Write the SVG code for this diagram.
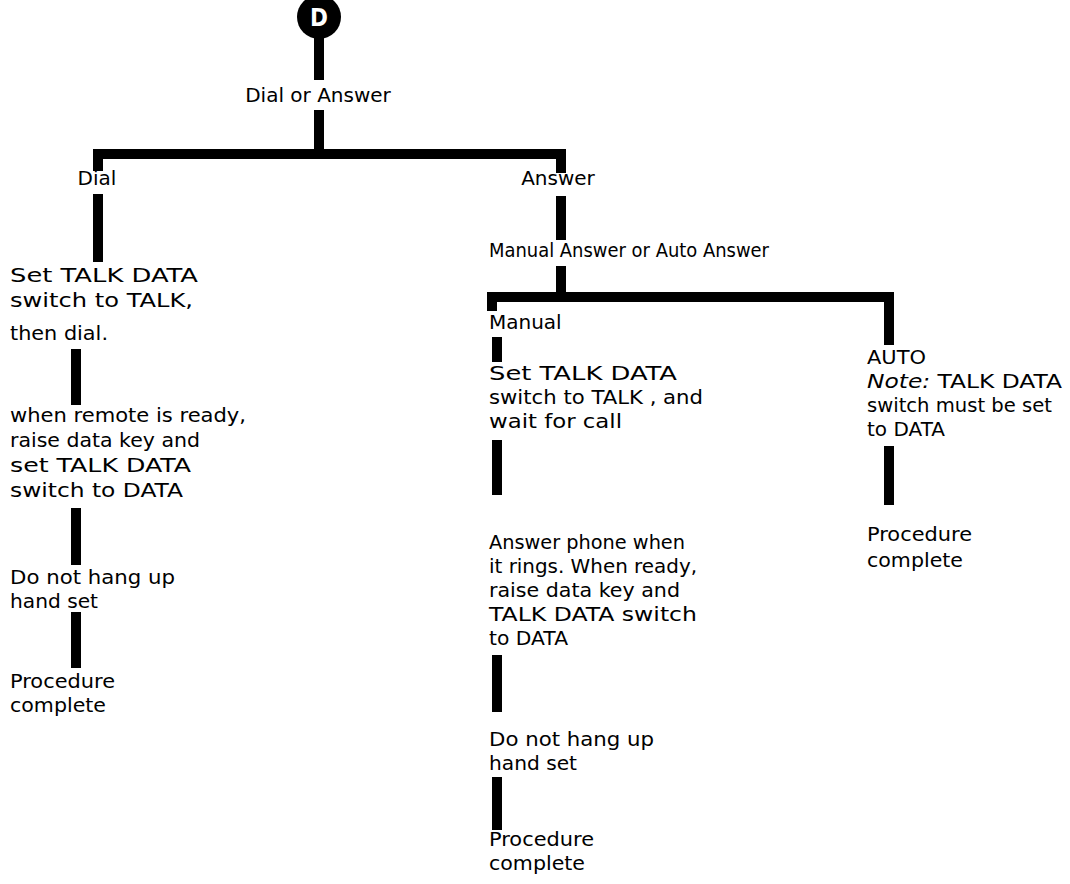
<svg xmlns="http://www.w3.org/2000/svg" width="1070" height="884" viewBox="0 0 1070 884">
<style>
.bg{fill:#fff}
.bar{fill:none;stroke:#000;stroke-width:10;stroke-linejoin:miter;stroke-linecap:butt}
.t{font-family:"DejaVu Sans","Liberation Sans",sans-serif;font-size:20px;fill:#000}
.it{font-style:italic}
.lbl{font-family:"DejaVu Sans Condensed","DejaVu Sans",sans-serif;font-weight:bold;font-size:24px;fill:#fff}
</style>
<rect class="bg" x="0" y="0" width="1070" height="884"/>
<g id="connectors">
  <path class="bar" d="M319 36 V80"/>
  <path class="bar" d="M319 110 V154"/>
  <path class="bar" d="M98 171 V154 H561 V173"/>
  <path class="bar" d="M98 194 V262"/>
  <path class="bar" d="M76 349 V405"/>
  <path class="bar" d="M76 508 V565"/>
  <path class="bar" d="M76 612 V668"/>
  <path class="bar" d="M561 196 V240"/>
  <path class="bar" d="M561 266 V297"/>
  <path class="bar" d="M492 311 V297 H889 V345"/>
  <path class="bar" d="M497 337 V362"/>
  <path class="bar" d="M497 440 V495"/>
  <path class="bar" d="M497 655 V712"/>
  <path class="bar" d="M497 777 V830"/>
  <path class="bar" d="M889 446 V505"/>
</g>
<g id="start">
  <circle cx="319" cy="17" r="22" fill="#000"/>
  <text class="lbl" x="319" y="26" text-anchor="middle">D</text>
</g>
<g id="dial-or-answer">
  <text class="t" x="318" y="102" text-anchor="middle">Dial or Answer</text>
</g>
<g id="dial">
  <text class="t" x="97" y="185" text-anchor="middle">Dial</text>
</g>
<g id="dial-set-talk">
  <text class="t" x="10" y="282" textLength="188" lengthAdjust="spacingAndGlyphs">Set TALK DATA</text>
  <text class="t" x="10" y="307" textLength="183" lengthAdjust="spacingAndGlyphs">switch to TALK,</text>
  <text class="t" x="10" y="340" textLength="98" lengthAdjust="spacingAndGlyphs">then dial.</text>
</g>
<g id="dial-remote-ready">
  <text class="t" x="10" y="422" textLength="236" lengthAdjust="spacingAndGlyphs">when remote is ready,</text>
  <text class="t" x="10" y="447" textLength="190" lengthAdjust="spacingAndGlyphs">raise data key and</text>
  <text class="t" x="10" y="472" textLength="181" lengthAdjust="spacingAndGlyphs">set TALK DATA</text>
  <text class="t" x="10" y="497" textLength="173" lengthAdjust="spacingAndGlyphs">switch to DATA</text>
</g>
<g id="dial-hang-up">
  <text class="t" x="10" y="584" textLength="165" lengthAdjust="spacingAndGlyphs">Do not hang up</text>
  <text class="t" x="10" y="608" textLength="88" lengthAdjust="spacingAndGlyphs">hand set</text>
</g>
<g id="dial-complete">
  <text class="t" x="10" y="688" textLength="105" lengthAdjust="spacingAndGlyphs">Procedure</text>
  <text class="t" x="10" y="712" textLength="96" lengthAdjust="spacingAndGlyphs">complete</text>
</g>
<g id="answer">
  <text class="t" x="558" y="185" text-anchor="middle">Answer</text>
</g>
<g id="manual-or-auto">
  <text class="t" x="489" y="257" textLength="280" lengthAdjust="spacingAndGlyphs">Manual Answer or Auto Answer</text>
</g>
<g id="manual">
  <text class="t" x="489" y="329">Manual</text>
</g>
<g id="manual-set-talk">
  <text class="t" x="489" y="380" textLength="188" lengthAdjust="spacingAndGlyphs">Set TALK DATA</text>
  <text class="t" x="489" y="404" textLength="214" lengthAdjust="spacingAndGlyphs">switch to TALK , and</text>
  <text class="t" x="489" y="428" textLength="133" lengthAdjust="spacingAndGlyphs">wait for call</text>
</g>
<g id="manual-answer-phone">
  <text class="t" x="489" y="549" textLength="196" lengthAdjust="spacingAndGlyphs">Answer phone when</text>
  <text class="t" x="489" y="573" textLength="208" lengthAdjust="spacingAndGlyphs">it rings.  When ready,</text>
  <text class="t" x="489" y="597" textLength="191" lengthAdjust="spacingAndGlyphs">raise data key and</text>
  <text class="t" x="489" y="621" textLength="208" lengthAdjust="spacingAndGlyphs">TALK DATA switch</text>
  <text class="t" x="489" y="645" textLength="79" lengthAdjust="spacingAndGlyphs">to DATA</text>
</g>
<g id="manual-hang-up">
  <text class="t" x="489" y="746" textLength="165" lengthAdjust="spacingAndGlyphs">Do not hang up</text>
  <text class="t" x="489" y="770" textLength="88" lengthAdjust="spacingAndGlyphs">hand set</text>
</g>
<g id="manual-complete">
  <text class="t" x="489" y="846" textLength="105" lengthAdjust="spacingAndGlyphs">Procedure</text>
  <text class="t" x="489" y="870" textLength="96" lengthAdjust="spacingAndGlyphs">complete</text>
</g>
<g id="auto">
  <text class="t" x="867" y="364" textLength="59" lengthAdjust="spacingAndGlyphs">AUTO</text>
  <text class="t" x="867" y="388" textLength="195" lengthAdjust="spacingAndGlyphs"><tspan class="it">Note:</tspan>  TALK DATA</text>
  <text class="t" x="867" y="412" textLength="185" lengthAdjust="spacingAndGlyphs">switch must be set</text>
  <text class="t" x="867" y="436" textLength="78" lengthAdjust="spacingAndGlyphs">to DATA</text>
</g>
<g id="auto-complete">
  <text class="t" x="867" y="541" textLength="105" lengthAdjust="spacingAndGlyphs">Procedure</text>
  <text class="t" x="867" y="567" textLength="96" lengthAdjust="spacingAndGlyphs">complete</text>
</g>
</svg>
